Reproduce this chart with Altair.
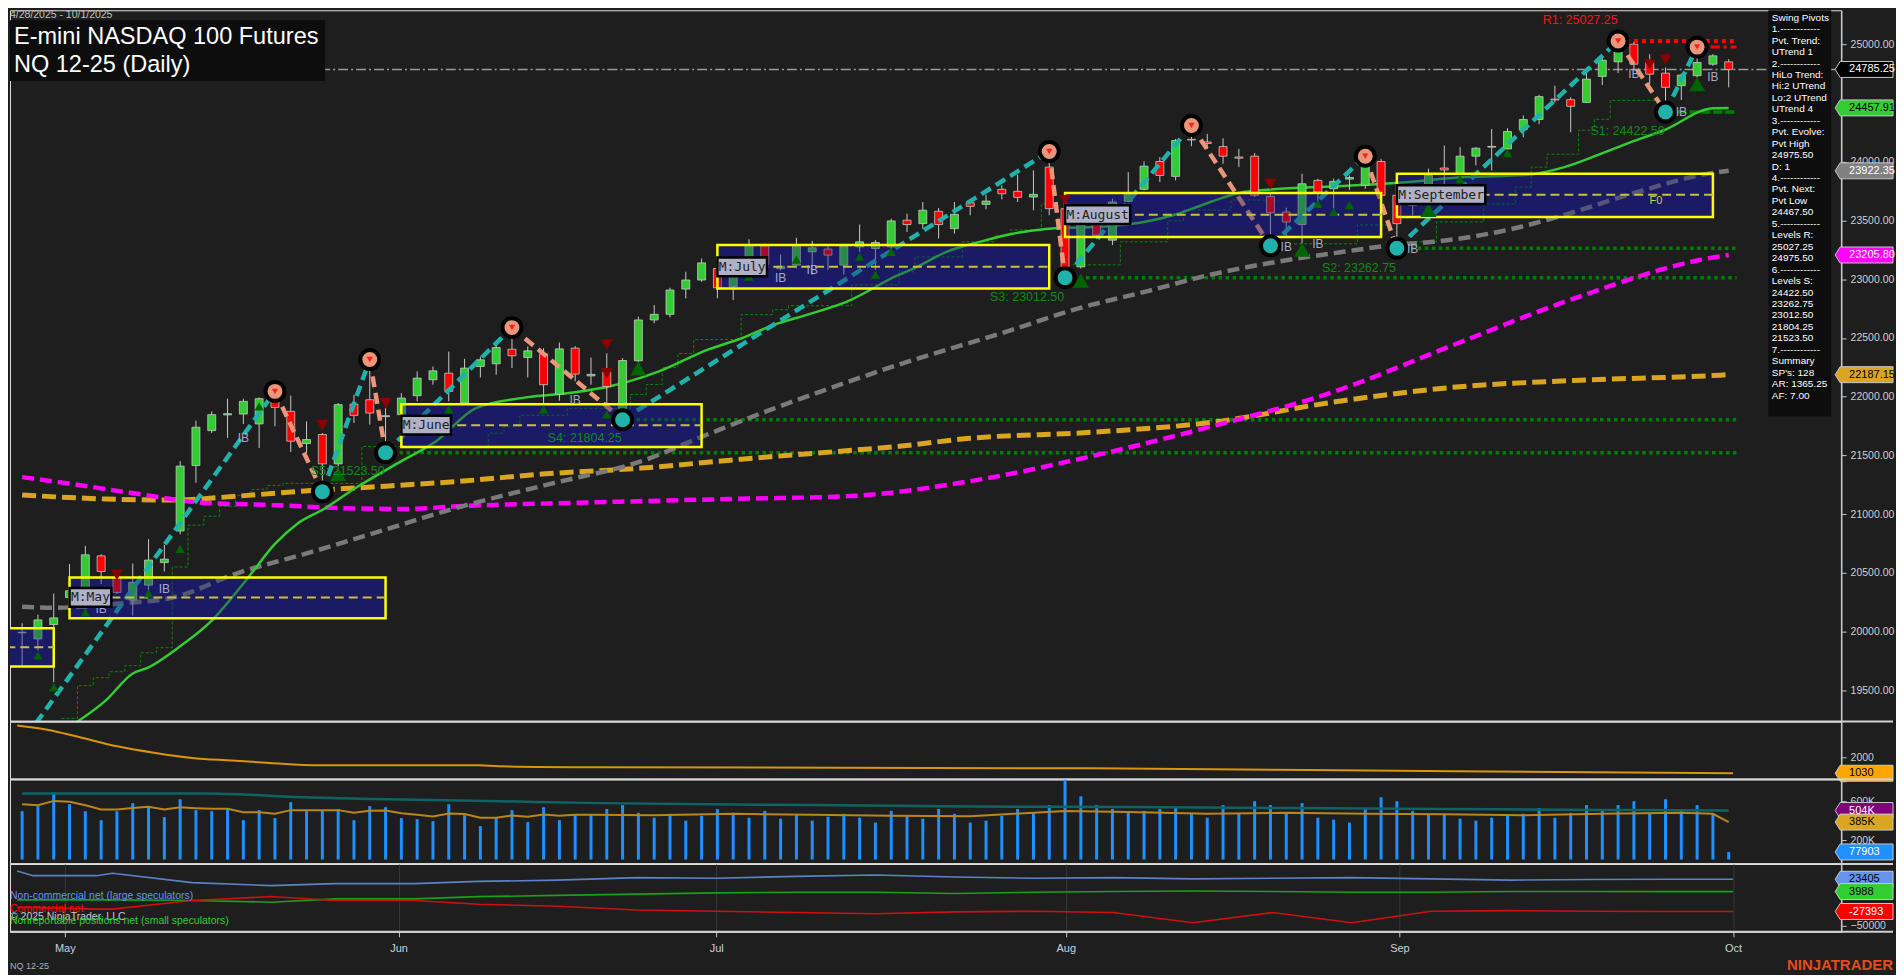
import altair as alt
import pandas as pd

# ---------------- data ----------------
OPEN = [19990, 19938, 20060, 20291, 20249, 20645, 20461, 20269, 20396, 20588,
        20857, 21414, 21711, 21845, 21852, 21768, 21983, 21875, 21601, 21678,
        21428, 21937, 21974, 21830, 21847, 22008, 22144, 22200, 21946, 22257,
        22280, 22404, 22333, 22365, 22022, 22413, 22177, 22209, 21818, 22305,
        22653, 22701, 22916, 22993, 23091, 22936, 23105, 23284, 23090, 23120,
        23233, 23256, 23120, 23275, 23261, 23275, 23502, 23473, 23578, 23430,
        23651, 23637, 23765, 23748, 23699, 23954, 23600, 23105, 23587, 23332,
        23663, 23765, 24002, 23875, 24190, 24168, 24129, 24040, 24047, 23705,
        23572, 23465, 23841, 23770, 23852, 23799, 24002, 23714, 23629, 23770,
        23946, 23897, 24047, 24124, 24109, 24274, 24359, 24533, 24528, 24505,
        24726, 24850, 25000, 24845, 24754, 24647, 24732, 24830, 24850]
HIGH = [20071, 20145, 20325, 20575, 20730, 20660, 20490, 20580, 20787, 20739,
        21451, 21796, 21875, 21983, 21983, 21994, 22045, 22008, 21790, 21691,
        21946, 22017, 22316, 21960, 22030, 22215, 22257, 22384, 22322, 22342,
        22455, 22588, 22427, 22413, 22461, 22430, 22333, 22370, 22328, 22681,
        22780, 22927, 23063, 23176, 23233, 23120, 23340, 23303, 23210, 23352,
        23326, 23290, 23290, 23465, 23332, 23515, 23558, 23657, 23606, 23657,
        23671, 23719, 23799, 23889, 23926, 24087, 23714, 23487, 23629, 23685,
        23911, 24002, 24039, 24194, 24308, 24237, 24200, 24109, 24073, 23742,
        23609, 23897, 23855, 23855, 23883, 24047, 24024, 23784, 23770, 23940,
        24138, 24124, 24124, 24279, 24285, 24393, 24570, 24647, 24550, 24802,
        24887, 25027.25, 25020, 24915, 24802, 24751, 24975.5, 24915, 24873]
LOW = [19712, 19839, 19570, 20136, 20136, 20405, 20320, 20136, 20348, 20512,
       20829, 21267, 21691, 21649, 21768, 21564, 21748, 21530, 21521, 21190,
       21409, 21776, 21762, 21523.5, 21832, 21960, 22102, 21960, 21932, 22164,
       22187, 22243, 22164, 21932, 21966, 22130, 22102, 21903, 21804.25, 22271,
       22625, 22676, 22837, 22978, 22837, 22823, 23001, 23105, 23074, 23091,
       23035, 23078, 23040, 23233, 23078, 23256, 23402, 23430, 23346, 23388,
       23544, 23595, 23680, 23657, 23587, 23544, 23012.5, 23091, 23346, 23290,
       23657, 23756, 23827, 23841, 24132, 24109, 23982, 23954, 23699, 23284,
       23351, 23303, 23657, 23600, 23760, 23770, 23685, 23262.75, 23544, 23544,
       23685, 23883, 23968, 23926, 24081, 24208, 24321, 24505, 24251, 24500,
       24652, 24754, 24774, 24661, 24422.5, 24525, 24717, 24817, 24633]
CLOSE = [19995, 20100, 20117, 20348, 20654, 20512, 20334, 20419, 20609, 20617,
         21409, 21740, 21847, 21855, 21960, 21983, 21909, 21621, 21635, 21428,
         21932, 21841, 21861, 21838, 21988, 22158, 22220, 22045, 22243, 22314,
         22418, 22348, 22390, 22102, 22407, 22192, 22190, 22087, 22308, 22653,
         22701, 22908, 22993, 23139, 22927, 23091, 23290, 23125, 23110, 23284,
         23267, 23205, 23281, 23318, 23312, 23496, 23465, 23587, 23465, 23552,
         23620, 23665, 23727, 23697, 23722, 23600, 23049, 23459, 23374, 23657,
         23727, 23962, 23883, 24180, 24185, 24155, 24047, 24030, 23714, 23566,
         23487, 23812, 23742, 23832, 23866, 23968, 23714, 23473, 23691, 23883,
         23930, 24047, 24115, 24130, 24257, 24359, 24554, 24525, 24471, 24703,
         24864, 24935, 24830, 24745, 24633, 24737, 24845, 24901, 24785.25]

MONTH_TICKS = [3, 24, 44, 66, 87, 108]
MONTH_NAMES = ["May", "Jun", "Jul", "Aug", "Sep", "Oct"]
PRICE_TICKS = [19500, 20000, 20500, 21000, 21500, 22000, 22500, 23000, 23500, 24000, 25000]

# moving averages (bar index, value)
MA_GREEN_I = [3, 5.3, 7, 8, 9.9, 12, 14.3, 16, 17.4, 19.1, 21, 24, 26.2, 28.7, 31.9, 35, 37.2, 38.4,
              40.3, 43.4, 45.5, 47.6, 49.7, 52.2, 55.5, 56.4, 58.5, 60.6, 62.6, 64.8, 68.9, 71, 73.1,
              75.2, 77.3, 79.4, 83.6, 86.9, 91.3, 95.1, 97.6, 99.7, 101.8, 103.9, 107, 108]
MA_GREEN_V = [19190, 19415, 19644, 19695, 19865, 20094, 20459, 20747, 20917, 21044, 21214, 21451, 21621,
              21901, 21994, 22037, 22088, 22130, 22215, 22401, 22495, 22613, 22698, 22809, 23038, 23089,
              23233, 23318, 23385, 23428, 23453, 23487, 23555, 23657, 23742, 23767, 23793, 23818, 23869,
              23886, 23954, 24056, 24166, 24268, 24455, 24457.91]
MA_GRAY_I = [0, 2.2, 6, 9.5, 13.7, 17.9, 22.1, 27.9, 33.5, 39.2, 43.4, 47.6, 51.8, 55.5, 62.3, 66.8,
             71.1, 75.2, 79.4, 83.6, 86.9, 89.3, 93.4, 97.6, 101.8, 107, 108]
MA_GRAY_V = [20212, 20204, 20238, 20289, 20501, 20662, 20832, 21069, 21260, 21451, 21680, 21901, 22104,
             22274, 22554, 22750, 22894, 23038, 23148, 23233, 23292, 23318, 23402, 23547, 23725, 23905,
             23922.35]
MA_MAG_I = [0, 3.2, 7.4, 11.6, 15.8, 20, 24.2, 27.9, 36, 44.8, 52.4, 60, 67.7, 75.3, 82.9, 90.5, 98.2,
            107, 108]
MA_MAG_V = [21315, 21256, 21171, 21095, 21078, 21052, 21044, 21069, 21100, 21129, 21154, 21281, 21494,
            21748, 22037, 22436, 22835, 23185, 23205.80]
MA_ORG_I = [0, 5.3, 9.5, 13.7, 17.9, 22.1, 27.9, 32.9, 39.2, 45.5, 51.8, 55.5, 60, 67.7, 75.3, 82.9,
            90.5, 98.2, 107, 108]
MA_ORG_V = [21163, 21129, 21120, 21154, 21197, 21231, 21282, 21341, 21392, 21468, 21536, 21578, 21646,
            21697, 21782, 21952, 22079, 22138, 22180, 22187.15]

# trailing stop steps
STOP_I = [2.5, 3.5, 4.5, 5.5, 6.5, 7.5, 8.5, 9.5, 10.5, 11.5, 12.5, 13.5, 14.5, 15.5, 16.5, 21.5, 29.5,
          30.5, 31.5, 34.5, 38.5, 39.5, 40.5, 41.5, 42.5, 45.5, 47.5, 48.5, 52.5, 55.5, 56.5, 59.5,
          61.5, 62.5, 64.5, 65.5,
          66.5, 69.5, 72.5, 73.5, 76.5, 79.5,
          80.5, 84.5, 86.5,
          87.5, 89.5, 92.5, 94.5, 95.5, 96.5, 98.5, 99.5, 100.5, 103.5]
STOP_V = [19262, 19540, 19608, 19659, 19710, 19820, 19863, 20550, 20906, 20982, 21067, 21160, 21211,
          21245, 21262, 21576, 21689, 21749, 21842, 21901, 22019, 22104, 22249, 22367, 22486, 22698,
          22740, 22774, 22952, 23063, 23190, 23318, 23369, 23419, 23640, 23640,
          23122, 23318, 23496, 23589, 23674, 23674,
          23301, 23462, 23462,
          23318, 23487, 23640, 23784, 23954, 24064, 24268, 24361, 24522, 24522]
STOP_SEG = [0] * 36 + [1] * 6 + [2] * 3 + [3] * 10

# swing pivots
PIVOT_I = [-1, 16, 19, 22, 23, 31, 38, 65, 66, 74, 79, 85, 87, 101, 104, 106]
PIVOT_V = [18870, 22045, 21190, 22316, 21523.5, 22588, 21804.25, 24087, 23012.5, 24308, 23284,
           24047, 23262.75, 25027.25, 24422.5, 24975.5]
PIVOT_K = ["L", "H", "L", "H", "L", "H", "L", "H", "L", "H", "L", "H", "L", "H", "L", "H"]

# monthly boxes
BOX_START = [-1, 3, 24, 44, 66, 87]
BOX_END = [2, 23, 43, 65, 86, 107]
BOX_TOP = [20028, 20461, 21935, 23290, 23733, 23897]
BOX_BOT = [19703, 20113, 21572, 22921, 23360, 23530]
BOX_MID = [19867, 20291, 21757, 23105, 23549, 23719]
BOX_NAME = ["", "M:May", "M:June", "M:July", "M:August", "M:September"]

# levels
LEVEL_NAME = ["R1", "S1", "S2", "S3", "S4", "S5"]
LEVEL_VALUE = [25027.25, 24422.50, 23262.75, 23012.50, 21804.25, 21523.50]
LEVEL_START = [101, 104, 87, 66, 38, 23]
LEVEL_LABEL_I = [98.6, 101.6, 84.6, 63.6, 35.6, 20.6]
LEVEL_LABEL_V = [25210, 24259, 23097, 22851, 21646, 21366]
LAST_PRICE = 24785.25
PVT_HIGH_EVOLVE = 24975.50

# markers
UP_TRI_I = [1, 2, 4, 8, 10, 15, 20, 27, 33, 37, 39, 46, 49, 53, 54, 55, 67, 81, 82, 83, 84, 89, 91, 94, 106]
UP_TRI_V = [19797, 19528, 20164, 20325, 20705, 21918, 21341, 21892, 21892, 21850, 22240, 23021, 23166,
            23191, 23038, 23233, 22987, 23250, 23640, 23572, 23631, 23589, 23852, 24073, 24658]
UP_TRI_BIG = [0, 0, 0, 0, 0, 0, 1, 0, 0, 0, 1, 0, 0, 0, 0, 0, 1, 1, 0, 0, 0, 1, 0, 0, 1]
DN_TRI_I = [6, 19, 23, 37, 37, 66, 79, 103, 104]
DN_TRI_V = [20483, 21757, 21943, 22444, 22200, 23673, 23809, 24828, 24870]
IB_I = [5, 9, 14, 35, 48, 50, 80, 82, 88, 102, 105, 107]
IB_V = [20193, 20365, 21649, 21975, 23006, 23078, 23275, 23303, 23261, 24745, 24421, 24717]

# lower panels
TREND_I = [0, 1.9, 3.9, 6.3, 8.7, 11, 13.5, 15.9, 19, 29.1, 30.3, 36.7, 67.7, 90.5, 108]
TREND_V = [3939, 3679, 3230, 2667, 2261, 1960, 1800, 1655, 1515, 1515, 1455, 1394, 1330, 1152, 1030]

VOL_K = [497, 549, 689, 569, 497, 405, 497, 579, 549, 436,
         620, 508, 497, 528, 405, 508, 426, 590, 497, 508,
         518, 405, 549, 538, 426, 415, 395, 569, 456, 344,
         426, 508, 385, 538, 405, 467, 467, 520, 560, 480,
         430, 470, 400, 450, 520, 480, 430, 500, 420, 460,
         400, 440, 470, 430, 380, 500, 450, 420, 520, 470,
         380, 400, 450, 520, 480, 560, 820, 650, 560, 520,
         480, 500, 520, 540, 480, 430, 560, 470, 600, 560,
         470, 580, 430, 410, 380, 520, 640, 600, 500, 460,
         470, 420, 400, 430, 460, 470, 530, 430, 480, 560,
         500, 560, 600, 480, 620, 520, 560, 470, 78]
VOLAVG_I = list(range(37)) + [40, 45, 50, 55, 60, 66, 70, 75, 80, 85, 90, 95, 100, 105, 107, 108]
VOLAVG_K = [569, 559, 603, 593, 559, 515, 515, 531, 542, 515, 538, 528, 521, 521, 487, 487, 470, 508,
            508, 508, 508, 480, 501, 504, 477, 460, 443, 474, 467, 429, 429, 453, 439, 463, 449, 460,
            460, 455, 470, 460, 450, 445, 500, 490, 470, 480, 470, 465, 455, 470, 480, 470, 385]
OI_I = [0, 11.5, 18.3, 23.1, 30.2, 36.7, 50, 60, 70, 80, 90, 100, 108]
OI_K = [679, 679, 638, 620, 600, 580, 560, 545, 540, 530, 520, 510, 504]

COT_I = [0, 1, 5, 6, 11, 16, 20, 25, 29, 34, 39, 44, 49, 54, 59, 64, 69, 74, 79, 84, 89, 94, 99, 104, 108]
COT_LARGE = [36400, 29050, 29050, 32800, 18070, 13370, 16500, 16500, 20000, 22000, 26000, 25000, 28000,
             30000, 27000, 25000, 26000, 24000, 25000, 26000, 24000, 22000, 23000, 23405, 23405]
COT_COMM = [-21130, -21130, -23640, -23640, -10150, -3880, -10150, -10150, -16000, -19000, -25000,
            -27000, -29000, -31000, -28000, -27000, -29000, -45000, -29000, -45000, -27000, -26000,
            -27000, -27393, -27393]
COT_SMALL = [-9000, -9000, -9000, -9000, -10150, -12700, -7500, -7500, -4000, -2000, 0, 2000, 3000,
             3000, 1000, 3000, 4000, 5000, 4000, 3000, 3000, 4000, 4000, 3988, 3988]

INFO_LINES = ["Swing Pivots", "1.------------", "Pvt. Trend:", "UTrend 1", "2.------------",
              "HiLo Trend:", "Hi:2 UTrend", "Lo:2 UTrend", "UTrend 4", "3.------------",
              "Pvt. Evolve:", "Pvt High", "24975.50", "D: 1", "4.------------", "Pvt. Next:",
              "Pvt Low", "24467.50", "5.------------", "Levels R:", "25027.25", "24975.50",
              "6.------------", "Levels S:", "24422.50", "23262.75", "23012.50", "21804.25",
              "21523.50", "7.------------", "Summary", "SP's: 128", "AR: 1365.25", "AF: 7.00"]

# ---------------- layout ----------------
W = 1836
H_PRICE, H_TREND, H_VOL, H_COT = 713, 58, 85, 68
BG = "#1e1e1e"
FONT = "Liberation Sans"
xs = alt.Scale(domain=[-0.452, 114.8], nice=False, zero=False)
ps = alt.Scale(domain=[19236, 25289], nice=False, zero=False)
TAG_PATH = "M -1 0 L -0.828 -0.276 L 1 -0.276 L 1 0.276 L -0.828 0.276 Z"


def right_axis(values, fmt=None, expr=None):
    kw = dict(orient="right", values=values, title=None, grid=False, labelColor="#d0d0d0",
              labelFont=FONT, labelFontSize=10.5, tickColor="#c8c8c8", tickSize=5,
              domainColor="#c8c8c8", domainWidth=1.5, labelPadding=4, labelOverlap=False,
              labelBound=False, labelFlush=False)
    if fmt:
        kw["format"] = fmt
    if expr:
        kw["labelExpr"] = expr
    return alt.Axis(**kw)


PRICE_AXIS = right_axis(PRICE_TICKS, fmt=".2f")


def xq(f):
    return alt.X(f"{f}:Q", scale=xs, axis=None)


def yp(f):
    return alt.Y(f"{f}:Q", scale=ps, axis=PRICE_AXIS)


one = pd.DataFrame({"a": [0]})

bars = pd.DataFrame({"i": range(len(OPEN)), "o": OPEN, "h": HIGH, "l": LOW, "c": CLOSE})
bars["dir"] = ["up" if c >= o else "down" for o, c in zip(OPEN, CLOSE)]

boxes = pd.DataFrame({"x0": BOX_START, "x1": BOX_END, "top": BOX_TOP, "bot": BOX_BOT, "mid": BOX_MID,
                      "name": BOX_NAME})
labs = boxes[boxes["name"] != ""].copy()
labs["lx1"] = labs["x0"] + (labs["name"].str.len() * 7.83 + 3) / 15.93
labs["lxc"] = (labs["x0"] + labs["lx1"]) / 2
labs["lt"] = labs["mid"] + 80
labs["lb"] = labs["mid"] - 80

levels = pd.DataFrame({"name": LEVEL_NAME, "v": LEVEL_VALUE, "x0": LEVEL_START, "x1": 108.5,
                       "li": LEVEL_LABEL_I, "lv": LEVEL_LABEL_V})
levels["text"] = [f"{n}: {v:.2f}" for n, v in zip(LEVEL_NAME, LEVEL_VALUE)]
levels["col"] = ["#ff1010"] + ["#138a13"] * 5

legs = []
for k in range(len(PIVOT_I) - 1):
    d = "up" if PIVOT_V[k + 1] > PIVOT_V[k] else "down"
    legs.append({"i": PIVOT_I[k], "v": PIVOT_V[k], "leg": k, "dir": d})
    legs.append({"i": PIVOT_I[k + 1], "v": PIVOT_V[k + 1], "leg": k, "dir": d})
legs = pd.DataFrame(legs)
piv = pd.DataFrame({"i": PIVOT_I[1:], "v": PIVOT_V[1:], "kind": PIVOT_K[1:]})

layers = []
# monthly boxes (opaque fill underneath)
layers.append(alt.Chart(boxes).mark_rect(fill="#1b1b5e", clip=True)
              .encode(x=xq("x0"), x2=alt.X2("x1:Q"), y=yp("top"), y2=alt.Y2("bot:Q")))
# level lines
layers.append(alt.Chart(levels[levels["name"].isin(["S2", "S3", "S4", "S5"])])
              .mark_rule(color="#008000", strokeWidth=3.5, strokeDash=[3.5, 3.5])
              .encode(x=xq("x0"), x2=alt.X2("x1:Q"), y=yp("v")))
layers.append(alt.Chart(levels[levels["name"] == "R1"])
              .mark_rule(color="#ff0000", strokeWidth=4, strokeDash=[4, 4])
              .encode(x=xq("x0"), x2=alt.X2("x1:Q"), y=yp("v")))
layers.append(alt.Chart(levels[levels["name"] == "S1"])
              .mark_rule(color="#008000", strokeWidth=3.5, strokeDash=[9, 3])
              .encode(x=xq("x0"), x2=alt.X2("x1:Q"), y=yp("v")))
layers.append(alt.Chart(pd.DataFrame({"x0": [105.6], "x1": [108.5], "v": [PVT_HIGH_EVOLVE]}))
              .mark_rule(color="#ff0000", strokeWidth=3, strokeDash=[9, 4, 3, 4])
              .encode(x=xq("x0"), x2=alt.X2("x1:Q"), y=yp("v")))
# last price dash-dot
layers.append(alt.Chart(pd.DataFrame({"x0": [-0.452], "x1": [114.8], "v": [LAST_PRICE]}))
              .mark_rule(color="#9a9a9a", strokeWidth=1.6, strokeDash=[10, 3, 2, 3])
              .encode(x=xq("x0"), x2=alt.X2("x1:Q"), y=yp("v")))
# trailing stop
layers.append(alt.Chart(pd.DataFrame({"i": STOP_I, "v": STOP_V, "seg": STOP_SEG}))
              .mark_line(interpolate="step-after", color="#0a8a0a", strokeWidth=1, strokeDash=[3, 2], clip=True)
              .encode(x=xq("i"), y=yp("v"), detail="seg:N"))
# moving averages
layers.append(alt.Chart(pd.DataFrame({"i": MA_ORG_I, "v": MA_ORG_V}))
              .mark_line(color="#daa520", strokeWidth=5, strokeDash=[14, 6], interpolate="monotone", clip=True)
              .encode(x=xq("i"), y=yp("v")))
layers.append(alt.Chart(pd.DataFrame({"i": MA_MAG_I, "v": MA_MAG_V}))
              .mark_line(color="#ff00ff", strokeWidth=4.5, strokeDash=[12, 6], interpolate="monotone", clip=True)
              .encode(x=xq("i"), y=yp("v")))
layers.append(alt.Chart(pd.DataFrame({"i": MA_GRAY_I, "v": MA_GRAY_V}))
              .mark_line(color="#7a7a7a", strokeWidth=4.5, strokeDash=[12, 6], interpolate="monotone", clip=True)
              .encode(x=xq("i"), y=yp("v")))
layers.append(alt.Chart(pd.DataFrame({"i": MA_GREEN_I, "v": MA_GREEN_V}))
              .mark_line(color="#32cd32", strokeWidth=2.5, interpolate="monotone", clip=True)
              .encode(x=xq("i"), y=yp("v")))
# candles
layers.append(alt.Chart(bars).mark_rule(color="#c8c8c8", strokeWidth=1)
              .encode(x=xq("i"), y=yp("l"), y2=alt.Y2("h:Q")))
layers.append(alt.Chart(bars).mark_bar(size=8, stroke="#c8c8c8", strokeWidth=0.8)
              .encode(x=xq("i"), y=yp("o"), y2=alt.Y2("c:Q"),
                      color=alt.Color("dir:N", scale=alt.Scale(domain=["up", "down"], range=["#32cd32", "#ff0000"]),
                                      legend=None)))
# zigzag
layers.append(alt.Chart(legs[legs["dir"] == "up"])
              .mark_line(color="#20b2aa", strokeWidth=4.5, strokeDash=[11, 6], clip=True)
              .encode(x=xq("i"), y=yp("v"), detail="leg:N"))
layers.append(alt.Chart(legs[legs["dir"] == "down"])
              .mark_line(color="#e9967a", strokeWidth=4.5, strokeDash=[11, 6], clip=True)
              .encode(x=xq("i"), y=yp("v"), detail="leg:N"))
# translucent box overlay, then outline and midline
layers.append(alt.Chart(boxes).mark_rect(fill="#191970", opacity=0.38, clip=True)
              .encode(x=xq("x0"), x2=alt.X2("x1:Q"), y=yp("top"), y2=alt.Y2("bot:Q")))
layers.append(alt.Chart(boxes).mark_rect(fillOpacity=0, stroke="#ffff00", strokeWidth=2.5, clip=True)
              .encode(x=xq("x0"), x2=alt.X2("x1:Q"), y=yp("top"), y2=alt.Y2("bot:Q")))
layers.append(alt.Chart(boxes).mark_rule(color="#c8c040", strokeWidth=2, strokeDash=[9, 5], clip=True)
              .encode(x=xq("x0"), x2=alt.X2("x1:Q"), y=yp("mid")))
# triangles
tri_up = pd.DataFrame({"i": UP_TRI_I, "v": UP_TRI_V, "sz": [260 if b else 90 for b in UP_TRI_BIG]})
layers.append(alt.Chart(tri_up).mark_point(shape="triangle-up", filled=True, opacity=1, color="#006400")
              .encode(x=xq("i"), y=yp("v"), size=alt.Size("sz:Q", scale=None)))
layers.append(alt.Chart(pd.DataFrame({"i": DN_TRI_I, "v": DN_TRI_V}))
              .mark_point(shape="triangle-down", filled=True, opacity=1, color="#8b0000", size=150)
              .encode(x=xq("i"), y=yp("v")))
# pivots
layers.append(alt.Chart(piv).mark_point(filled=True, opacity=1, size=360, stroke="#000000", strokeWidth=4)
              .encode(x=xq("i"), y=yp("v"),
                      fill=alt.Fill("kind:N", scale=alt.Scale(domain=["H", "L"], range=["#e9967a", "#20b2aa"]),
                                    legend=None)))
layers.append(alt.Chart(piv[piv["kind"] == "H"]).mark_point(shape="triangle-down", filled=True, opacity=1,
                                                           size=40, color="#ff2020")
              .encode(x=xq("i"), y=yp("v")))
# IB labels
layers.append(alt.Chart(pd.DataFrame({"i": IB_I, "v": IB_V, "t": "IB"}))
              .mark_text(color="#a8a8cc", fontSize=12, font=FONT)
              .encode(x=xq("i"), y=yp("v"), text="t:N"))
# level labels
layers.append(alt.Chart(levels).mark_text(fontSize=12.5, font=FONT)
              .encode(x=xq("li"), y=yp("lv"), text="text:N", color=alt.Color("col:N", scale=None)))
layers.append(alt.Chart(pd.DataFrame({"i": [103.4], "v": [23665], "t": ["F0"]}))
              .mark_text(fontSize=11, font=FONT, color="#d8c850")
              .encode(x=xq("i"), y=yp("v"), text="t:N"))
# month box labels
layers.append(alt.Chart(labs).mark_rect(fill="#b0b0c6", stroke="#000000", strokeWidth=2.5)
              .encode(x=xq("x0"), x2=alt.X2("lx1:Q"), y=yp("lt"), y2=alt.Y2("lb:Q")))
layers.append(alt.Chart(labs).mark_text(font="DejaVu Sans Mono", fontSize=13, color="#222222")
              .encode(x=xq("lxc"), y=yp("mid"), text="name:N"))
# right-side price tags
tags = pd.DataFrame({"v": [LAST_PRICE, MA_GREEN_V[-1], MA_GRAY_V[-1], MA_MAG_V[-1], MA_ORG_V[-1]],
                     "bg": ["#000000", "#32cd32", "#808080", "#ff00ff", "#daa520"],
                     "fg": ["#ffffff", "#000000", "#ffffff", "#ffffff", "#000000"],
                     "st": ["#c8c8c8", "#c8c8c8", "#c8c8c8", "#c8c8c8", "#c8c8c8"]})
tags["label"] = [f"{v:.2f}" for v in tags["v"]]
layers.append(alt.Chart(tags).mark_point(shape=TAG_PATH, filled=True, opacity=1, size=3364, strokeWidth=1)
              .encode(x=alt.value(1859), y=yp("v"), fill=alt.Fill("bg:N", scale=None),
                      stroke=alt.Stroke("st:N", scale=None)))
layers.append(alt.Chart(tags).mark_text(align="left", baseline="middle", fontSize=11, font=FONT)
              .encode(x=alt.value(1844), y=yp("v"), text="label:N", color=alt.Color("fg:N", scale=None)))
# title block
layers.append(alt.Chart(one).mark_rect(fill="#0d0d0d")
              .encode(x=alt.value(0), x2=alt.value(316), y=alt.value(10), y2=alt.value(71)))
layers.append(alt.Chart(one).mark_text(text="E-mini NASDAQ 100 Futures", align="left", baseline="middle",
                                       fontSize=23.6, font=FONT, color="#ffffff")
              .encode(x=alt.value(4), y=alt.value(27)))
layers.append(alt.Chart(one).mark_text(text="NQ 12-25 (Daily)", align="left", baseline="middle",
                                       fontSize=23.6, font=FONT, color="#ffffff")
              .encode(x=alt.value(4), y=alt.value(55)))
layers.append(alt.Chart(one).mark_text(text="4/28/2025 - 10/1/2025", align="left", baseline="top",
                                       fontSize=10.5, font=FONT, color="#c0c0c0")
              .encode(x=alt.value(0), y=alt.value(0)))
# info panel
layers.append(alt.Chart(one).mark_rect(fill="#0d0d0d")
              .encode(x=alt.value(1763), x2=alt.value(1826), y=alt.value(0), y2=alt.value(407)))
layers.append(alt.Chart(pd.DataFrame({"t": ["\n".join(INFO_LINES)]}))
              .mark_text(align="left", baseline="top", lineBreak="\n", lineHeight=11.48, fontSize=10,
                         font=FONT, color="#ffffff")
              .encode(x=alt.value(1766.5), y=alt.value(2.5), text="t:N"))
# separator
layers.append(alt.Chart(one).mark_rule(color="#d0d0d0", strokeWidth=2)
              .encode(x=alt.value(0), x2=alt.value(1888), y=alt.value(H_PRICE)))

price = alt.layer(*layers).properties(width=W, height=H_PRICE)

# ---- panel 2 ----
ts = alt.Scale(domain=[666, 4182], nice=False, zero=False)
TREND_AXIS = right_axis([2000], fmt="d")
p2 = alt.layer(
    alt.Chart(pd.DataFrame({"i": TREND_I, "v": TREND_V})).mark_line(color="#d8960c", strokeWidth=2,
                                                                   interpolate="monotone")
    .encode(x=xq("i"), y=alt.Y("v:Q", scale=ts, axis=TREND_AXIS)),
    alt.Chart(pd.DataFrame({"v": [TREND_V[-1]], "label": ["1030"]}))
    .mark_point(shape=TAG_PATH, filled=True, opacity=1, size=3364, fill="#ffa500", stroke="#c8c8c8", strokeWidth=1)
    .encode(x=alt.value(1859), y=alt.Y("v:Q", scale=ts, axis=TREND_AXIS)),
    alt.Chart(pd.DataFrame({"v": [TREND_V[-1]], "label": ["1030"]}))
    .mark_text(align="left", baseline="middle", fontSize=11, font=FONT, color="#000000")
    .encode(x=alt.value(1844), y=alt.Y("v:Q", scale=ts, axis=TREND_AXIS), text="label:N"),
    alt.Chart(one).mark_rule(color="#d0d0d0", strokeWidth=2)
    .encode(x=alt.value(0), x2=alt.value(1888), y=alt.value(H_TREND)),
).properties(width=W, height=H_TREND)

# ---- panel 3 ----
vs = alt.Scale(domain=[-46000, 825600], nice=False, zero=False)
VOL_AXIS = right_axis([200000, 400000, 600000, 800000],
                      expr="datum.value == 800000 ? '' : format(datum.value / 1000, 'd') + 'K'")
vol = pd.DataFrame({"i": range(len(VOL_K)), "v": [k * 1000 for k in VOL_K]})
vtags = pd.DataFrame({"v": [504000, 385000, 77903], "label": ["504K", "385K", "77903"],
                      "bg": ["#800080", "#daa520", "#1e90ff"], "fg": ["#ffffff", "#000000", "#ffffff"]})
p3 = alt.layer(
    alt.Chart(vol).mark_bar(size=3, color="#1e90ff")
    .encode(x=xq("i"), y=alt.Y("v:Q", scale=vs, axis=VOL_AXIS), y2=alt.Y2(datum=0)),
    alt.Chart(pd.DataFrame({"i": OI_I, "v": [k * 1000 for k in OI_K]}))
    .mark_line(color="#0e6464", strokeWidth=2.5, interpolate="monotone")
    .encode(x=xq("i"), y=alt.Y("v:Q", scale=vs, axis=VOL_AXIS)),
    alt.Chart(pd.DataFrame({"i": VOLAVG_I, "v": [k * 1000 for k in VOLAVG_K]}))
    .mark_line(color="#b8861b", strokeWidth=2)
    .encode(x=xq("i"), y=alt.Y("v:Q", scale=vs, axis=VOL_AXIS)),
    alt.Chart(vtags).mark_point(shape=TAG_PATH, filled=True, opacity=1, size=3364, stroke="#c8c8c8", strokeWidth=1)
    .encode(x=alt.value(1859), y=alt.Y("v:Q", scale=vs, axis=VOL_AXIS), fill=alt.Fill("bg:N", scale=None)),
    alt.Chart(vtags).mark_text(align="left", baseline="middle", fontSize=11, font=FONT)
    .encode(x=alt.value(1844), y=alt.Y("v:Q", scale=vs, axis=VOL_AXIS), text="label:N",
            color=alt.Color("fg:N", scale=None)),
    alt.Chart(one).mark_rule(color="#d0d0d0", strokeWidth=2)
    .encode(x=alt.value(0), x2=alt.value(1888), y=alt.value(H_VOL)),
).properties(width=W, height=H_VOL)

# ---- panel 4 ----
cs = alt.Scale(domain=[-59400, 47400], nice=False, zero=False)
COT_AXIS = right_axis([-50000], fmt="d")
X_AXIS = alt.Axis(orient="bottom", values=MONTH_TICKS, title=None, grid=True, gridColor="#383838",
                  labelExpr=" : ".join(f"datum.value == {t} ? '{n}'" for t, n in zip(MONTH_TICKS, MONTH_NAMES)) + " : ''",
                  labelColor="#c8d0e0", labelFont=FONT, labelFontSize=11, tickColor="#c8c8c8",
                  tickSize=5, labelPadding=6, domain=False, labelOverlap=False)


def xb(f):
    return alt.X(f"{f}:Q", scale=xs, axis=X_AXIS)


def cot_line(values, color):
    return (alt.Chart(pd.DataFrame({"i": COT_I, "v": values}))
            .mark_line(strokeWidth=1.6, color=color)
            .encode(x=xb("i"), y=alt.Y("v:Q", scale=cs, axis=COT_AXIS)))


ctags = pd.DataFrame({"v": [23405, 3988, -27393], "label": ["23405", "3988", "-27393"],
                      "bg": ["#6495ed", "#32cd32", "#ff0000"], "fg": ["#000000", "#000000", "#ffffff"]})
legend_txt = pd.DataFrame({"t": ["Non-commercial net (large speculators)", "Commercial net",
                                 "© 2025 NinjaTrader, LLC", "Nonreportable positions net (small speculators)"],
                           "y": [32, 45, 53, 57], "c": ["#6495ed", "#ff0000", "#c8c8c8", "#32cd32"]})
p4 = alt.layer(
    cot_line(COT_SMALL, "#1aa01a"),
    cot_line(COT_COMM, "#d01010"),
    cot_line(COT_LARGE, "#5b82c8"),
    alt.Chart(ctags).mark_point(shape=TAG_PATH, filled=True, opacity=1, size=3364, stroke="#c8c8c8", strokeWidth=1)
    .encode(x=alt.value(1859), y=alt.Y("v:Q", scale=cs, axis=COT_AXIS), fill=alt.Fill("bg:N", scale=None)),
    alt.Chart(ctags).mark_text(align="left", baseline="middle", fontSize=11, font=FONT)
    .encode(x=alt.value(1844), y=alt.Y("v:Q", scale=cs, axis=COT_AXIS), text="label:N",
            color=alt.Color("fg:N", scale=None)),
    alt.Chart(legend_txt).mark_text(align="left", baseline="middle", fontSize=10.5, font=FONT)
    .encode(x=alt.value(0), y=alt.Y("y:Q", scale=None), text="t:N", color=alt.Color("c:N", scale=None)),
    alt.Chart(one).mark_rule(color="#d0d0d0", strokeWidth=2)
    .encode(x=alt.value(0), x2=alt.value(1888), y=alt.value(H_COT)),
    alt.Chart(one).mark_text(text="NQ 12-25", align="left", baseline="middle", fontSize=9, font=FONT,
                             color="#b0b0b0")
    .encode(x=alt.value(0), y=alt.value(102)),
    alt.Chart(one).mark_text(text="NINJATRADER", align="right", baseline="middle", fontSize=15,
                             fontWeight="bold", font=FONT, color="#e8491d")
    .encode(x=alt.value(1888), y=alt.value(101)),
).properties(width=W, height=H_COT)

chart = alt.vconcat(price, p2, p3, p4, spacing=0, bounds="flush").properties(
    background=BG, padding=0
).configure_view(stroke=None).configure(font=FONT)

chart.save("out.html", embed_options={"renderer": "svg", "actions": False})
